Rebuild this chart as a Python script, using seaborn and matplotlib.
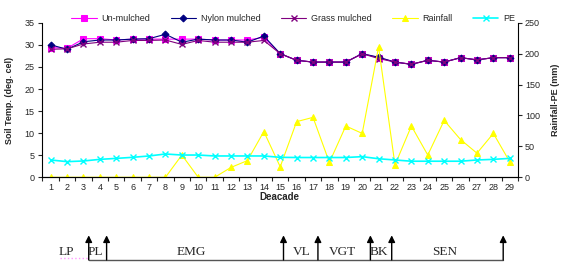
import numpy as np
import pandas as pd
import matplotlib
matplotlib.use("Agg")
import matplotlib.pyplot as plt
import matplotlib.transforms as mtransforms
import seaborn as sns

decade = list(range(1, 30))
un_mulched = [29.4, 29.2, 31.4, 31.4, 31.1, 31.3, 31.3, 31.3, 31.3, 31.3, 31.1, 31.1, 31.1, 31.7, 28.0,
              26.5, 26.1, 26.1, 26.1, 28.0, 27.1, 26.1, 25.6, 26.5, 26.1, 27.1, 26.6, 27.1, 27.1]
nylon_mulched = [30.0, 29.0, 30.7, 31.1, 31.1, 31.3, 31.4, 32.4, 30.6, 31.3, 31.1, 31.1, 30.6, 32.0, 28.0,
                 26.5, 26.1, 26.1, 26.1, 28.0, 27.2, 26.1, 25.6, 26.5, 26.1, 27.1, 26.6, 27.1, 27.1]
grass_mulched = [29.0, 29.1, 30.2, 30.6, 30.6, 31.0, 31.0, 31.1, 30.1, 31.0, 30.6, 30.6, 30.6, 31.0, 28.0,
                 26.5, 26.1, 26.1, 26.1, 28.0, 26.9, 26.1, 25.6, 26.5, 26.1, 27.1, 26.6, 27.1, 27.1]
rainfall = [0, 0, 0, 0, 0, 0, 0, 0, 36, 0, 0, 16, 27, 74, 17,
            90, 97, 24, 83, 71, 211, 20, 83, 36, 92, 61, 39, 71, 25]
pe = [28, 25.3, 26.4, 29, 30.6, 32.3, 34.5, 37.7, 36, 36, 34.5, 34.5, 34.5, 34.5, 32.3,
      32, 32, 32, 32, 33.4, 30, 28, 26, 26, 26, 26, 28, 29, 30.6]

stage_names = ["LP", "PL", "EMG", "VL", "VGT", "BK", "SEN"]
stage_label_x = [1.98, 3.74, 9.6, 16.3, 18.8, 21.0, 25.0]
stage_arrows = [3.32, 4.41, 15.2, 17.3, 20.5, 21.8, 28.6]

df = pd.DataFrame({"Deacade": decade, "Un-mulched": un_mulched, "Nylon mulched": nylon_mulched,
                   "Grass mulched": grass_mulched, "Rainfall": rainfall, "PE": pe})

sns.set_style("white")
plt.rcParams['font.family'] = ['Liberation Sans', 'DejaVu Sans']

fig = plt.figure(figsize=(5.67, 2.65), dpi=100)
ax = fig.add_axes([0.0735, 0.331, 0.840, 0.583])
ax2 = ax.twinx()

fs = 6.5
sns.lineplot(data=df, x="Deacade", y="Un-mulched", ax=ax, color="#FF00FF", marker="s",
             markersize=4.5, markeredgecolor="#FF00FF", linewidth=0.8, label="Un-mulched", legend=False)
sns.lineplot(data=df, x="Deacade", y="Nylon mulched", ax=ax, color="#000080", marker="D",
             markersize=3.5, markeredgecolor="#000080", linewidth=0.8, label="Nylon mulched", legend=False)
sns.lineplot(data=df, x="Deacade", y="Grass mulched", ax=ax, color="#800080", marker="x",
             markersize=4, markeredgecolor="#800080", markeredgewidth=1, linewidth=0.8,
             label="Grass mulched", legend=False)
sns.lineplot(data=df, x="Deacade", y="Rainfall", ax=ax2, color="#FFFF00", marker="^",
             markersize=5, markeredgecolor="#FFFF00", linewidth=0.8, label="Rainfall", legend=False)
sns.lineplot(data=df, x="Deacade", y="PE", ax=ax2, color="#00FFFF", marker="x",
             markersize=4, markeredgecolor="#00FFFF", markeredgewidth=1, linewidth=1.2, label="PE",
             legend=False)

ax.set_xlim(0.45, 29.5)
ax.set_ylim(0, 35)
ax2.set_ylim(0, 250)
ax.set_yticks(range(0, 36, 5))
ax2.set_yticks(range(0, 251, 50))
ax.set_xticks(decade)
ax.set_xticks(np.arange(0.5, 30, 1), minor=True)
ax.tick_params(axis='x', which='major', length=0, labelsize=fs, pad=4)
ax.tick_params(axis='x', which='minor', length=3, width=0.8, direction='out', bottom=True)
ax.tick_params(axis='y', length=3, width=0.8, direction='out', labelsize=fs, left=True, pad=2)
ax2.tick_params(axis='y', length=3, width=0.8, direction='out', labelsize=fs, right=True, pad=2)

for a in (ax, ax2):
    a.spines["top"].set_visible(False)
    for s in ["left", "bottom", "right"]:
        a.spines[s].set_color("black")
        a.spines[s].set_linewidth(0.8)
ax.spines["right"].set_visible(False)
ax2.spines["left"].set_visible(False)

ax.set_xlabel("Deacade", fontsize=7, fontweight="bold", labelpad=0)
ax.set_ylabel("Soil Temp. (deg. cel)", fontsize=fs, fontweight="bold", labelpad=8)
ax2.set_ylabel("Rainfall-PE (mm)", fontsize=fs, fontweight="bold", rotation=90, labelpad=8)

h1, l1 = ax.get_legend_handles_labels()
h2, l2 = ax2.get_legend_handles_labels()
fig.legend(h1 + h2, l1 + l2, loc="center", bbox_to_anchor=(0.517, 0.93), ncol=5, frameon=False,
           fontsize=fs, handlelength=2.8, columnspacing=2.3, handletextpad=0.5, borderaxespad=0)

# growth stage annotation below the chart
trans = mtransforms.blended_transform_factory(ax.transData, fig.transFigure)
y_line = 0.019
y_top = 0.112
ax.plot([stage_arrows[0], stage_arrows[-1]], [y_line, y_line], transform=trans, color="#555555",
        linewidth=1, clip_on=False)
ax.plot([1.55, stage_arrows[0]], [y_line + 0.008, y_line + 0.008], transform=trans, color="#FF99FF",
        linewidth=1, linestyle=":", clip_on=False)
for xa in stage_arrows:
    ax.annotate("", xy=(xa, y_top), xytext=(xa, y_line), xycoords=trans, textcoords=trans,
                arrowprops=dict(arrowstyle="-|>", color="black", lw=1, mutation_scale=10,
                                shrinkA=0, shrinkB=0), annotation_clip=False)
for name, xl in zip(stage_names, stage_label_x):
    ax.text(xl, 0.05, name, transform=trans, ha="center", va="center", fontsize=9.5,
            family=["Liberation Serif", "DejaVu Serif"], clip_on=False)

fig.savefig("out.png", dpi=100)
